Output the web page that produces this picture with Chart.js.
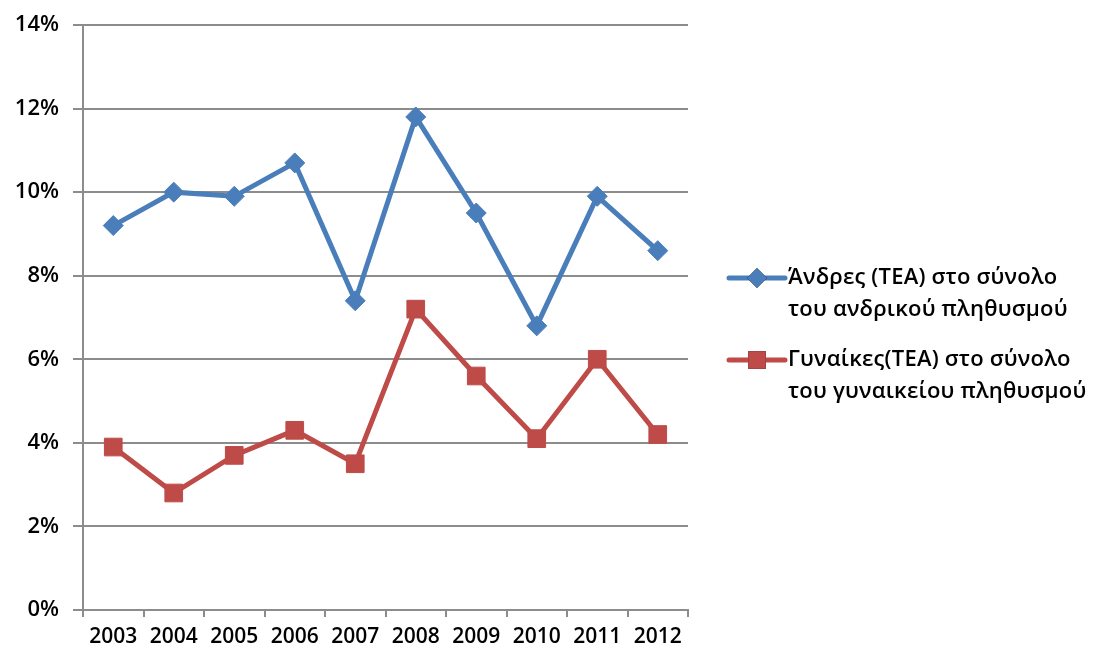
<!DOCTYPE html>
<html>
<head>
<meta charset="utf-8">
<script src="https://cdn.jsdelivr.net/npm/chart.js@4"></script>
<style>
  html, body { margin: 0; padding: 0; background: #ffffff; }
  #wrap { width: 1095px; height: 654px; position: relative; }
</style>
</head>
<body>
<div id="wrap"><canvas id="c" width="1095" height="654"></canvas></div>
<script>
// Years on the category axis
const years = ['2003', '2004', '2005', '2006', '2007', '2008', '2009', '2010', '2011', '2012'];
// TEA rate (%) among the male population
const men = [9.2, 10.0, 9.9, 10.7, 7.4, 11.8, 9.5, 6.8, 9.9, 8.6];
// TEA rate (%) among the female population
const women = [3.9, 2.8, 3.7, 4.3, 3.5, 7.2, 5.6, 4.1, 6.0, 4.2];
// Legend texts, one entry per line
const menLabel = ['Άνδρες (ΤΕΑ) στο σύνολο', 'του ανδρικού πληθυσμού'];
const womenLabel = ['Γυναίκες(ΤΕΑ) στο σύνολο', 'του γυναικείου πληθυσμού'];

const BLUE = '#4a7ebb';
const RED = '#be4b48';
const GRID = '#8c8c8c';
const FONT = "'Open Sans', 'Liberation Sans', sans-serif";

// Legend on the right with two-line labels
const sideLegend = {
  id: 'sideLegend',
  afterDraw(chart) {
    const ctx = chart.ctx;
    const items = [
      { ds: chart.data.datasets[0], y: 278 },
      { ds: chart.data.datasets[1], y: 360 }
    ];
    ctx.save();
    items.forEach(it => {
      const ds = it.ds;
      ctx.strokeStyle = ds.borderColor;
      ctx.lineWidth = 5;
      ctx.lineCap = 'round';
      ctx.beginPath();
      ctx.moveTo(729, it.y);
      ctx.lineTo(785, it.y);
      ctx.stroke();
      Chart.helpers.drawPoint(ctx, {
        pointStyle: ds.pointStyle,
        radius: ds.pointStyle === 'rect' ? 12.5 : 10,
        rotation: 0
      }, 757, it.y);
      ctx.fillStyle = ds.pointBackgroundColor;
      ctx.fill();
      ctx.fillStyle = '#000';
      ctx.font = '600 22px ' + FONT;
      ctx.letterSpacing = '0.2px';
      ctx.textBaseline = 'middle';
      ctx.textAlign = 'left';
      ds.labelLines.forEach((line, i) => {
        ctx.fillText(line, 788, it.y + i * 32);
      });
    });
    ctx.restore();
  }
};

new Chart(document.getElementById('c'), {
  type: 'line',
  data: {
    labels: years,
    datasets: [
      {
        label: menLabel.join(' '),
        labelLines: menLabel,
        data: men,
        borderColor: BLUE,
        backgroundColor: BLUE,
        pointBackgroundColor: BLUE,
        pointBorderColor: BLUE,
        borderWidth: 5,
        pointStyle: 'rectRot',
        pointRadius: 10,
        pointBorderWidth: 1,
        tension: 0
      },
      {
        label: womenLabel.join(' '),
        labelLines: womenLabel,
        data: women,
        borderColor: RED,
        backgroundColor: RED,
        pointBackgroundColor: RED,
        pointBorderColor: RED,
        borderWidth: 5,
        pointStyle: 'rect',
        pointRadius: 12.5,
        pointBorderWidth: 1,
        tension: 0
      }
    ]
  },
  options: {
    responsive: false,
    animation: false,
    layout: { padding: { top: 25, right: 407, left: 0, bottom: 0 } },
    plugins: {
      legend: { display: false },
      tooltip: { enabled: false }
    },
    scales: {
      x: {
        offset: true,
        grid: {
          display: true,
          offset: true,
          drawOnChartArea: false,
          drawTicks: true,
          tickLength: 7,
          color: GRID,
          lineWidth: 2
        },
        border: { display: true, color: GRID, width: 2 },
        ticks: {
          color: '#000',
          font: { family: FONT, size: 21, weight: '600' },
          padding: 7,
          maxRotation: 0,
          autoSkip: false
        },
        afterFit(scale) { scale.height = 44; }
      },
      y: {
        min: 0,
        max: 14,
        grid: {
          color: GRID,
          lineWidth: 2,
          drawTicks: true,
          tickLength: 10
        },
        border: { display: true, color: GRID, width: 2 },
        ticks: {
          stepSize: 2,
          color: '#000',
          font: { family: FONT, size: 22, weight: '600', lineHeight: 1 },
          padding: 14,
          callback: v => v + '%'
        },
        afterFit(scale) { scale.width = 83; }
      }
    }
  },
  plugins: [sideLegend]
});
</script>
</body>
</html>
